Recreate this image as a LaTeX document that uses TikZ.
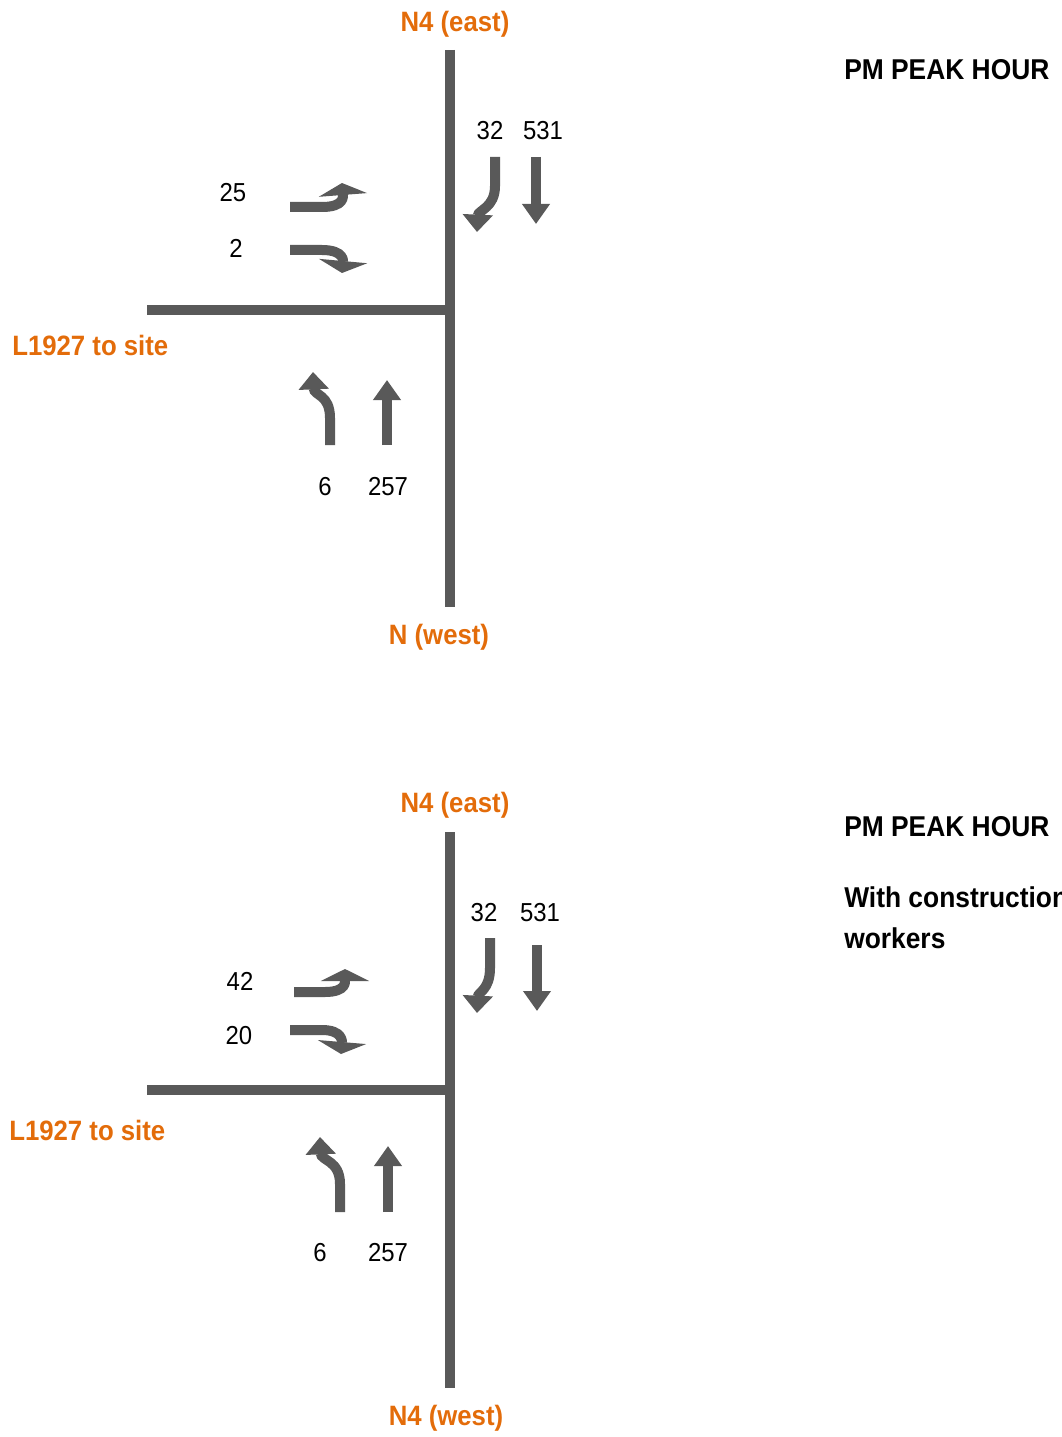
\documentclass[tikz,border=0pt]{standalone}
\usepackage{fontspec}
\setmainfont{Liberation Sans}[FakeStretch=0.92]
\usetikzlibrary{arrows.meta}
\definecolor{road}{HTML}{595959}
\definecolor{lbl}{HTML}{E36C0A}
\tikzset{
  roadline/.style={draw=road, line width=7.5pt},
  mv/.style={draw=road, line width=7.5pt},
  thru/.style={mv, -{Triangle[width=20pt,length=15pt]}},
  turnew/.style={mv, -{Triangle[width=36pt,length=9pt]}},
  turnns/.style={mv, -{Triangle[width=22pt,length=13pt]}},
  place/.style={text=lbl, font=\bfseries\fontsize{21}{24}\selectfont, inner sep=0pt},
  title/.style={text=black, font=\bfseries\fontsize{21.5}{24}\selectfont, inner sep=0pt, anchor=west},
  vol/.style={text=black, font=\fontsize{19.5}{22}\selectfont, inner sep=0pt},
}
\begin{document}
\begin{tikzpicture}[x=0.75pt, y=-0.75pt]
\useasboundingbox (0,0) rectangle (1061,1437);
% ---------- top diagram ----------
\draw[roadline] (450,50) -- (450,607);
\draw[roadline] (147,310) -- (450,310);
\node[place] (te) at (455,24) {N4 (east)};
\node[place, anchor=west] (tl) at (12,345) {L1927 to site};
\node[place] (tw) at (439,637) {N (west)};
\node[title] (tt) at (844,70) {PM PEAK HOUR};
\node[vol] (t32) at (490,131) {32};
\node[vol] (t531) at (543,131) {531};
\node[vol] (t25) at (233,193) {25};
\node[vol] (t2) at (236,248) {2};
\node[vol] (t6) at (325,487) {6};
\node[vol] (t257) at (388,487) {257};
\draw[turnew] (290,207) -- (322,207) .. controls (345,207) and (343,196) .. (342,183);
\draw[turnew] (290,250) -- (322,250) .. controls (345,250) and (343,262) .. (342,273);
\draw[turnns] (495,157) -- (495,186) .. controls (495,208) and (478,210) .. (477,232);
\draw[thru] (536,157) -- (536,224);
\draw[turnns] (330,445) -- (330,418) .. controls (330,394) and (314,396) .. (313,372);
\draw[thru] (387,445) -- (387,380);
% ---------- bottom diagram ----------
\draw[roadline] (450,832) -- (450,1388);
\draw[roadline] (147,1090) -- (450,1090);
\node[place] (be) at (455,805) {N4 (east)};
\node[place, anchor=west] (bl) at (9,1130) {L1927 to site};
\node[place] (bw) at (446,1418) {N4 (west)};
\node[title] (bt) at (844,827) {PM PEAK HOUR};
\node[title] (bc1) at (844,897) {With construction};
\node[title] (bc2) at (844,938) {workers};
\node[vol] (b32) at (484,913) {32};
\node[vol] (b531) at (540,913) {531};
\node[vol] (b42) at (240,981) {42};
\node[vol] (b20) at (239,1036) {20};
\node[vol] (b6) at (320,1253) {6};
\node[vol] (b257) at (388,1253) {257};
\draw[turnew] (294,992) -- (325,992) .. controls (347,992) and (345,981) .. (345,969);
\draw[turnew] (290,1030) -- (322,1030) .. controls (343,1030) and (342,1042) .. (341,1054);
\draw[turnns] (490,938) -- (490,968) .. controls (490,990) and (478,992) .. (477,1013);
\draw[thru] (537,945) -- (537,1011);
\draw[turnns] (340,1212) -- (340,1184) .. controls (340,1160) and (321,1161) .. (320,1137);
\draw[thru] (388,1212) -- (388,1146);
\end{tikzpicture}
\end{document}
